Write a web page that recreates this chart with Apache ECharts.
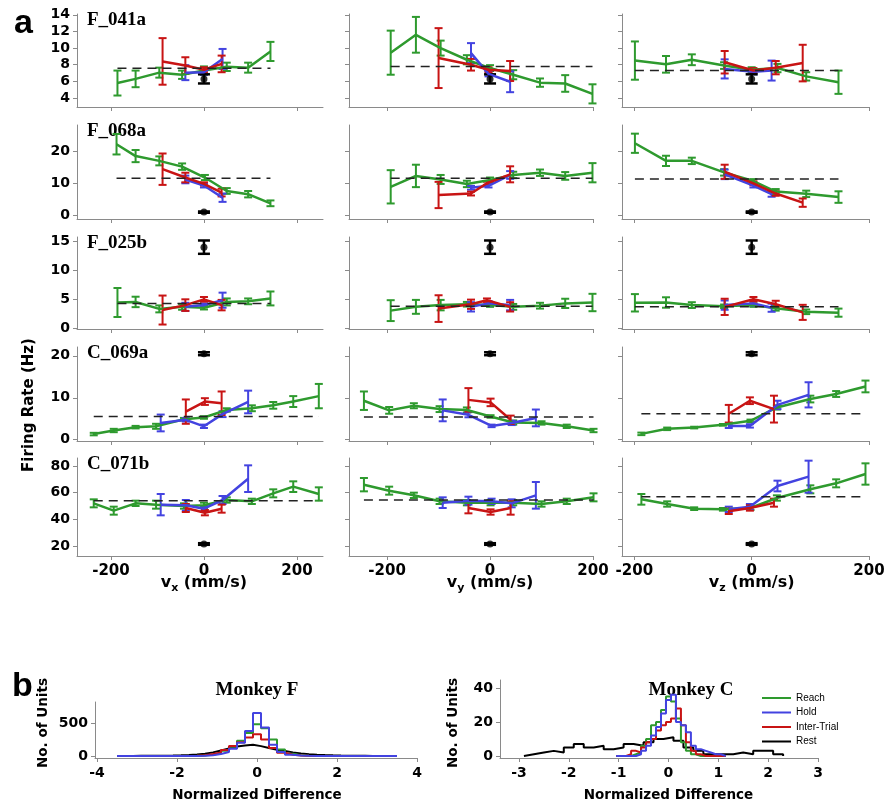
<!DOCTYPE html>
<html>
<head>
<meta charset="utf-8">
<script src="https://cdn.jsdelivr.net/npm/echarts@6/dist/echarts.min.js"></script>
<style>
  html, body { margin: 0; padding: 0; background: #fff; }
  #main { width: 896px; height: 804px; }
</style>
</head>
<body>
<div id="main"></div>
<script>
// ---------- (a) velocity tuning: rows are [velocity mm/s, mean rate Hz, s.e.m.] ----------
const unitNames = ['F_041a', 'F_068a', 'F_025b', 'C_069a', 'C_071b'];
const velAxes = ['x', 'y', 'z'];
const velTicks = [-200, 0, 200];

const F041a_vx_reach = [[-186,5.8,1.5],[-147,6.3,1.0],[-96,7.05,0.6],[-47,6.8,0.5],[0,7.3,0.5],[49,7.75,0.5],[95,7.65,0.6],[143,9.6,1.15]];
const F041a_vx_hold  = [[-40,7.05,0.9],[0,7.1,0.3],[40,8.7,1.2]];
const F041a_vx_inter = [[-89,8.4,2.8],[-40,7.9,1.0],[0,7.4,0.3],[38,8.1,1.0]];
const F041a_vy_reach = [[-193,9.45,2.65],[-144,11.6,2.15],[-96,10.0,0.9],[-45,8.6,0.55],[0,7.6,0.35],[45,6.8,0.55],[97,5.85,0.5],[146,5.75,1.0],[199,4.5,1.15]];
const F041a_vy_hold  = [[-37,9.4,1.2],[-3,6.9,0.3],[39,5.95,1.25]];
const F041a_vy_inter = [[-100,8.8,3.6],[-37,8.0,0.7],[-3,7.4,0.3],[39,7.25,1.2]];
const F041a_vz_reach = [[-199,8.5,2.3],[-146,8.05,1.0],[-102,8.6,0.65],[-47,7.9,0.4],[0,7.4,0.3],[44,7.6,0.5],[93,6.6,0.5],[148,5.9,1.4]];
const F041a_vz_hold  = [[-46,7.5,1.15],[3,7.15,0.3],[34,7.3,1.2]];
const F041a_vz_inter = [[-46,8.3,1.35],[3,7.3,0.3],[41,7.65,0.8],[87,8.2,2.2]];
const F041a_base = [7.58, 7.78, 7.3];
const F041a_rest = [6.3, 0.55];
const F041a_yTicks = [4, 6, 8, 10, 12, 14];

const F068a_vx_reach = [[-188,22.1,3.2],[-147,18.4,1.9],[-96,16.9,1.4],[-47,15.1,1.0],[2,11.7,0.8],[49,7.5,0.9],[95,6.5,1.0],[143,3.65,0.9]];
const F068a_vx_hold  = [[-40,11.1,1.2],[0,9.2,0.6],[40,5.4,1.3]];
const F068a_vx_inter = [[-89,14.3,4.9],[-40,11.7,1.5],[0,9.7,0.5],[38,7.0,1.2]];
const F068a_vy_reach = [[-193,8.8,5.2],[-144,12.2,3.5],[-96,11.1,1.4],[-45,9.7,1.0],[0,10.9,0.8],[45,12.5,1.0],[97,13.2,1.0],[146,12.2,1.2],[199,13.2,3.0]];
const F068a_vy_hold  = [[-37,8.5,0.6],[-3,9.1,0.5],[39,12.5,1.2]];
const F068a_vy_inter = [[-100,6.25,4.1],[-37,6.7,0.6],[-6,9.9,0.5],[39,12.7,2.5]];
const F068a_vz_reach = [[-199,22.4,3.0],[-146,16.9,1.6],[-102,16.9,1.0],[-47,13.3,1.0],[3,10.6,0.6],[41,7.3,0.8],[93,6.6,1.0],[148,5.6,1.8]];
const F068a_vz_hold  = [[-46,12.7,1.5],[3,9.2,0.6],[34,6.5,0.8]];
const F068a_vz_inter = [[-46,13.5,2.2],[3,9.9,0.6],[41,6.7,0.7],[87,3.85,1.3]];
const F068a_base = [11.45, 11.45, 11.25];
const F068a_rest = [0.9, 0.2];
const F068a_yTicks = [0, 10, 20];

const F025b_vx_reach = [[-186,4.4,2.5],[-147,4.5,0.9],[-96,3.3,0.6],[-47,3.65,0.5],[0,3.5,0.3],[49,4.5,0.6],[95,4.6,0.5],[143,5.1,1.2]];
const F025b_vx_hold  = [[-40,3.65,0.7],[0,3.95,0.3],[40,4.8,1.3]];
const F025b_vx_inter = [[-89,3.1,2.5],[-40,3.95,1.0],[0,4.95,0.4],[38,3.95,0.9]];
const F025b_vy_reach = [[-193,3.0,1.8],[-144,3.65,1.2],[-96,3.95,0.9],[-45,4.1,0.4],[0,3.95,0.3],[45,3.65,0.5],[97,3.85,0.5],[146,4.25,0.8],[199,4.4,1.5]];
const F025b_vy_hold  = [[-37,3.65,0.8],[-3,4.25,0.4],[39,3.95,0.9]];
const F025b_vy_inter = [[-100,3.35,2.3],[-37,4.1,0.8],[-6,4.8,0.3],[39,3.65,0.8]];
const F025b_vz_reach = [[-199,4.35,1.5],[-146,4.4,0.9],[-102,3.95,0.5],[-47,3.75,0.3],[3,3.95,0.3],[41,3.4,0.4],[93,2.8,0.4],[148,2.65,0.7]];
const F025b_vz_hold  = [[-46,3.95,0.8],[3,4.25,0.4],[34,3.5,0.7]];
const F025b_vz_inter = [[-46,3.65,1.4],[3,4.95,0.4],[41,4.1,0.6],[87,2.7,1.3]];
const F025b_base = [4.23, 3.77, 3.66];
const F025b_rest = [13.95, 1.15];
const F025b_yTicks = [0, 5, 10, 15];

const C069a_vx_reach = [[-237,1.35,0.3],[-194,2.2,0.4],[-147,3.0,0.3],[-103,3.2,0.6],[-43,4.9,0.3],[0,5.3,0.3],[49,7.1,0.4],[103,7.5,0.7],[149,8.2,0.8],[192,9.1,1.3],[247,10.4,2.9]];
const C069a_vx_hold  = [[-93,4.0,2.0],[-39,4.75,0.4],[0,3.2,0.4],[40,6.1,0.7],[95,9.0,2.7]];
const C069a_vx_inter = [[-39,6.7,2.9],[2,9.1,0.8],[38,8.7,2.8]];
const C069a_vy_reach = [[-245,9.3,2.2],[-196,7.0,0.8],[-148,8.1,0.6],[-98,7.3,0.7],[-45,7.1,0.6],[1,5.55,0.3],[45,4.1,0.5],[100,4.0,0.4],[149,3.2,0.4],[201,2.2,0.4]];
const C069a_vy_hold  = [[-92,7.0,2.6],[-42,5.95,0.6],[3,3.3,0.3],[42,4.0,0.5],[89,5.2,2.0]];
const C069a_vy_inter = [[-42,9.5,2.8],[1,8.9,0.9],[40,4.75,1.0]];
const C069a_vz_reach = [[-188,1.4,0.3],[-144,2.6,0.3],[-98,2.9,0.2],[-49,3.55,0.2],[-2,4.5,0.3],[43,7.7,0.5],[100,9.7,0.8],[144,10.9,0.7],[194,12.7,1.4]];
const C069a_vz_hold  = [[-39,3.3,0.5],[-3,3.3,0.4],[44,8.3,1.0],[97,10.7,3.0]];
const C069a_vz_inter = [[-39,6.2,2.1],[-3,9.3,0.8],[38,7.3,3.2]];
const C069a_base = [5.55, 5.4, 6.2];
const C069a_rest = [20.5, 0.35];
const C069a_yTicks = [0, 10, 20];

const C071b_vx_reach = [[-237,52,3],[-194,46.5,3],[-147,52,2],[-103,51,3],[-43,50,2],[0,50.5,2],[49,54.5,2],[103,53.5,2],[149,59.5,3],[192,64.5,4],[247,59,5]];
const C071b_vx_hold  = [[-93,51,8],[-39,50.5,4],[0,48,2],[40,54.5,3],[95,70.5,10]];
const C071b_vx_inter = [[-39,48.5,3],[2,45,2],[38,48,3]];
const C071b_vy_reach = [[-245,66,5],[-196,61.5,3],[-148,58,2],[-98,53.5,2],[-45,52.5,2],[1,52.5,2],[45,52.5,2],[100,51.5,2],[149,53.5,2],[201,56.5,3]];
const C071b_vy_hold  = [[-92,52.5,4],[-42,54,3],[3,53.5,2],[42,52,3],[89,58,10]];
const C071b_vy_inter = [[-42,48.5,4],[1,45.5,2],[40,48.5,5]];
const C071b_vz_reach = [[-188,55,4],[-144,51.5,2],[-98,48,1],[-49,47.5,1],[-2,48.5,1.5],[43,56,2],[100,62.5,3],[144,67,3],[194,74,8]];
const C071b_vz_hold  = [[-39,47.5,2],[-3,49.5,2],[44,65,4],[97,72,12]];
const C071b_vz_inter = [[-39,46,2],[-3,48.5,2],[38,52.5,3]];
const C071b_base = [54, 54.5, 57];
const C071b_rest = [21.5, 0.6];
const C071b_yTicks = [20, 40, 60, 80];

// ---------- (b) histograms of normalized difference (bin edges + counts) ----------
const condNames = ['Reach', 'Hold', 'Inter-Trial', 'Rest'];

const monkeyF_edges = [-3.5,-3.3,-3.1,-2.9,-2.7,-2.5,-2.3,-2.1,-1.9,-1.7,-1.5,-1.3,-1.1,-0.9,-0.7,-0.5,-0.3,-0.1,0.1,0.3,0.5,0.7,0.9,1.1,1.3,1.5,1.7,1.9,2.1,2.3,2.5,2.7,2.9,3.1,3.3,3.5];
const monkeyF_reach = [0,0,0,0,0,0,0,0,0,3,8,20,45,80,140,230,350,480,420,250,100,35,12,4,2,0,0,0,0,0,0,0,0,0,0];
const monkeyF_hold  = [0,0,0,0,0,0,0,0,0,0,5,12,30,60,110,200,380,650,430,170,60,20,8,3,0,0,0,0,0,0,0,0,0,0,0];
const monkeyF_inter = [0,0,0,0,0,0,0,0,0,5,12,30,55,90,150,210,280,330,250,120,50,20,8,3,0,0,0,0,0,0,0,0,0,0,0];
const monkeyF_rest  = [2,2,3,3,4,5,7,10,14,22,35,55,85,115,145,160,170,150,120,95,75,55,40,28,20,14,10,7,5,4,3,2,2,1,1];
const monkeyF_xTicks = [-4, -2, 0, 2, 4];
const monkeyF_yTicks = [0, 500];

const monkeyC_edges = [-1.05,-0.95,-0.85,-0.75,-0.65,-0.55,-0.45,-0.35,-0.25,-0.15,-0.05,0.05,0.15,0.25,0.35,0.45,0.55,0.65,0.75,0.85,0.95,1.05,1.15];
const monkeyC_reach = [0,0,0,1,2,6,10,18,20,27,35,32,22,8,3,1,0,0,0,0,0,0];
const monkeyC_hold  = [0,0,0,0,1,3,6,12,17,25,33,36,20,18,14,6,4,3,2,1,1,0];
const monkeyC_inter = [0,0,1,3,2,5,8,10,15,18,20,22,28,18,8,3,1,0,0,0,0,0];
const monkeyC_restEdges = [-2.9,-2.7,-2.5,-2.3,-2.1,-1.9,-1.7,-1.5,-1.3,-1.1,-0.9,-0.7,-0.5,-0.3,-0.1,0.1,0.3,0.5,0.7,0.9,1.1,1.3,1.5,1.7,1.9,2.1,2.3];
const monkeyC_rest  = [1,2,3,2,5,7,5,6,4,5,7,6,8,10,11,9,5,3,1,1,1,2,1,3,3,1];
const monkeyC_xTicks = [-3, -2, -1, 0, 1, 2, 3];
const monkeyC_yTicks = [0, 20, 40];

// ---------- assemble ----------
const units = [
  { panels: [[F041a_vx_reach, F041a_vx_hold, F041a_vx_inter], [F041a_vy_reach, F041a_vy_hold, F041a_vy_inter], [F041a_vz_reach, F041a_vz_hold, F041a_vz_inter]], base: F041a_base, rest: F041a_rest, yTicks: F041a_yTicks },
  { panels: [[F068a_vx_reach, F068a_vx_hold, F068a_vx_inter], [F068a_vy_reach, F068a_vy_hold, F068a_vy_inter], [F068a_vz_reach, F068a_vz_hold, F068a_vz_inter]], base: F068a_base, rest: F068a_rest, yTicks: F068a_yTicks },
  { panels: [[F025b_vx_reach, F025b_vx_hold, F025b_vx_inter], [F025b_vy_reach, F025b_vy_hold, F025b_vy_inter], [F025b_vz_reach, F025b_vz_hold, F025b_vz_inter]], base: F025b_base, rest: F025b_rest, yTicks: F025b_yTicks },
  { panels: [[C069a_vx_reach, C069a_vx_hold, C069a_vx_inter], [C069a_vy_reach, C069a_vy_hold, C069a_vy_inter], [C069a_vz_reach, C069a_vz_hold, C069a_vz_inter]], base: C069a_base, rest: C069a_rest, yTicks: C069a_yTicks },
  { panels: [[C071b_vx_reach, C071b_vx_hold, C071b_vx_inter], [C071b_vy_reach, C071b_vy_hold, C071b_vy_inter], [C071b_vz_reach, C071b_vz_hold, C071b_vz_inter]], base: C071b_base, rest: C071b_rest, yTicks: C071b_yTicks }
];

const GREEN = '#2e9a2e', BLUE = '#4343e0', RED = '#c81414', BLACK = '#000000', AXIS = '#8a8a8a';
const condColors = [GREEN, BLUE, RED, BLACK];
const SANS = "'Liberation Sans', Arial, sans-serif";
const WIDE = "'DejaVu Sans', 'Liberation Sans', sans-serif";
const SERIF = "'Liberation Serif', 'Times New Roman', serif";

// panel geometry
const colLayout = [
  { left: 77,  width: 246, min: -273, max: 256 },
  { left: 349, width: 244, min: -274, max: 200 },
  { left: 622, width: 247, min: -221, max: 200 }
];
const rowLayout = [
  { top: 14,  height: 93, min: 2.92, max: 14.1 },
  { top: 125, height: 94, min: -1.25, max: 28.1 },
  { top: 237, height: 92, min: -0.17, max: 15.7 },
  { top: 347, height: 94, min: -0.3, max: 22.1 },
  { top: 458, height: 98, min: 12.5, max: 86 }
];

const grids = [], xAxes = [], yAxes = [], series = [], graphics = [];

function errorBars(rows, color, idx, cap, width) {
  return {
    type: 'custom', xAxisIndex: idx, yAxisIndex: idx, silent: true, z: 3,
    data: rows.map(r => [r[0], r[1] - r[2], r[1] + r[2]]),
    encode: { x: 0, y: [1, 2] },
    renderItem(params, api) {
      const x = api.value(0);
      const lo = api.coord([x, api.value(1)]);
      const hi = api.coord([x, api.value(2)]);
      const st = { stroke: color, lineWidth: width, lineCap: 'butt' };
      return {
        type: 'group',
        children: [
          { type: 'line', shape: { x1: lo[0], y1: lo[1], x2: hi[0], y2: hi[1] }, style: st },
          { type: 'line', shape: { x1: lo[0] - cap, y1: lo[1], x2: lo[0] + cap, y2: lo[1] }, style: st },
          { type: 'line', shape: { x1: hi[0] - cap, y1: hi[1], x2: hi[0] + cap, y2: hi[1] }, style: st }
        ]
      };
    }
  };
}

function meanLine(rows, color, idx, name) {
  return {
    type: 'line', name, xAxisIndex: idx, yAxisIndex: idx, silent: true, z: 3,
    data: rows.map(r => [r[0], r[1]]),
    symbol: 'none', lineStyle: { color, width: 2.5 }, clip: false
  };
}

const tickLabel = (show, values, size) => ({
  show, customValues: values, color: '#000', fontFamily: WIDE, fontWeight: 'bold', fontSize: size, margin: 7
});

units.forEach((u, ri) => {
  const rl = rowLayout[ri];
  u.panels.forEach((trio, ci) => {
    const cl = colLayout[ci];
    const idx = grids.length;
    grids.push({ left: cl.left, top: rl.top, width: cl.width, height: rl.height });
    xAxes.push({
      type: 'value', gridIndex: idx, min: cl.min, max: cl.max,
      axisLine: { show: true, onZero: false, lineStyle: { color: AXIS, width: 1 } },
      axisTick: { show: true, customValues: velTicks, length: 4, lineStyle: { color: AXIS } },
      axisLabel: Object.assign(tickLabel(ri === 4, velTicks, 15), { margin: 8 }),
      splitLine: { show: false }
    });
    yAxes.push({
      type: 'value', gridIndex: idx, min: rl.min, max: rl.max,
      axisLine: { show: true, onZero: false, lineStyle: { color: AXIS, width: 1 } },
      axisTick: { show: true, customValues: u.yTicks, length: 4, lineStyle: { color: AXIS } },
      axisLabel: tickLabel(ci === 0, u.yTicks, 14),
      splitLine: { show: false }
    });
    const [reach, hold, inter] = trio;
    // reach condition (green) first, baseline dashed, then hold and inter-trial
    series.push(meanLine(reach, GREEN, idx, 'Reach'));
    series.push(errorBars(reach, GREEN, idx, 4, 2));
    series.push({
      type: 'line', xAxisIndex: idx, yAxisIndex: idx, silent: true, z: 4,
      data: [[reach[0][0], u.base[ci]], [reach[reach.length - 1][0], u.base[ci]]],
      symbol: 'none', lineStyle: { color: '#222', width: 1.5, type: [9, 6] }
    });
    series.push(meanLine(hold, BLUE, idx, 'Hold'));
    series.push(errorBars(hold, BLUE, idx, 4, 2));
    series.push(meanLine(inter, RED, idx, 'Inter-Trial'));
    series.push(errorBars(inter, RED, idx, 4, 2));
    // rest rate: filled dot with error bar at zero velocity
    series.push(errorBars([[0, u.rest[0], u.rest[1]]], BLACK, idx, 6, 2.5));
    series.push({
      type: 'scatter', xAxisIndex: idx, yAxisIndex: idx, silent: true, z: 5,
      data: [[0, u.rest[0]]], symbol: 'circle', symbolSize: 7, itemStyle: { color: BLACK }
    });
  });
  graphics.push({
    type: 'text', left: 87, top: rl.top - 3,
    style: { text: unitNames[ri], font: `bold 19px ${SERIF}`, fill: '#000' }
  });
});

// velocity axis names with subscript
colLayout.forEach((cl, ci) => {
  const cx = cl.left + (0 - cl.min) / (cl.max - cl.min) * cl.width;
  graphics.push({
    type: 'text', x: cx, y: 583,
    style: {
      text: `{v|v}{s|${velAxes[ci]}}{t| (mm/s)}`,
      align: 'center', verticalAlign: 'middle',
      rich: {
        v: { font: `bold 16px ${WIDE}`, lineHeight: 22, fill: '#000' },
        s: { font: `bold 11px ${WIDE}`, lineHeight: 12, verticalAlign: 'bottom', fill: '#000' },
        t: { font: `bold 16px ${WIDE}`, lineHeight: 22, fill: '#000' }
      }
    }
  });
});

graphics.push({
  type: 'text', x: 29, y: 405, rotation: Math.PI / 2,
  style: { text: 'Firing Rate (Hz)', font: `bold 15px ${WIDE}`, fill: '#000', align: 'center', verticalAlign: 'middle' }
});
graphics.push({ type: 'text', left: 14, top: 7, style: { text: 'a', font: `bold 34px ${SANS}`, fill: '#000' } });
graphics.push({ type: 'text', left: 12, top: 670, style: { text: 'b', font: `bold 34px ${SANS}`, fill: '#000' } });

// ---------- histograms ----------
function stairs(edges, counts) {
  const pts = [[edges[0], 0]];
  counts.forEach((c, i) => pts.push([edges[i], c]));
  pts.push([edges[edges.length - 1], 0]);
  return pts;
}

const hist = [
  { title: 'Monkey F', titleX: 257, left: 95, width: 322, top: 702, height: 56, xmin: -4.05, xmax: 4, ymin: -30, ymax: 818,
    xTicks: monkeyF_xTicks, yTicks: monkeyF_yTicks, yNameX: 43,
    sets: [[monkeyF_edges, monkeyF_rest], [monkeyF_edges, monkeyF_reach], [monkeyF_edges, monkeyF_inter], [monkeyF_edges, monkeyF_hold]],
    colors: [BLACK, GREEN, RED, BLUE], names: [condNames[3], condNames[0], condNames[2], condNames[1]] },
  { title: 'Monkey C', titleX: 691, left: 500, width: 318, top: 680, height: 78, xmin: -3.38, xmax: 3, ymin: -1.2, ymax: 44.7,
    xTicks: monkeyC_xTicks, yTicks: monkeyC_yTicks, yNameX: 453,
    sets: [[monkeyC_restEdges, monkeyC_rest], [monkeyC_edges, monkeyC_reach], [monkeyC_edges, monkeyC_inter], [monkeyC_edges, monkeyC_hold]],
    colors: [BLACK, GREEN, RED, BLUE], names: [condNames[3], condNames[0], condNames[2], condNames[1]] }
];

hist.forEach(h => {
  const idx = grids.length;
  grids.push({ left: h.left, top: h.top, width: h.width, height: h.height });
  xAxes.push({
    type: 'value', gridIndex: idx, min: h.xmin, max: h.xmax,
    axisLine: { show: true, onZero: false, lineStyle: { color: AXIS } },
    axisTick: { show: true, customValues: h.xTicks, length: 4, lineStyle: { color: AXIS } },
    axisLabel: Object.assign(tickLabel(true, h.xTicks, 14), { margin: 8 }),
    splitLine: { show: false }
  });
  yAxes.push({
    type: 'value', gridIndex: idx, min: h.ymin, max: h.ymax,
    axisLine: { show: true, onZero: false, lineStyle: { color: AXIS } },
    axisTick: { show: true, customValues: h.yTicks, length: 4, lineStyle: { color: AXIS } },
    axisLabel: tickLabel(true, h.yTicks, 14),
    splitLine: { show: false }
  });
  h.sets.forEach(([edges, counts], k) => {
    series.push({
      type: 'line', name: h.names[k], xAxisIndex: idx, yAxisIndex: idx, silent: true,
      data: stairs(edges, counts), step: 'end', symbol: 'none',
      lineStyle: { color: h.colors[k], width: 2 }, z: 3 + k
    });
  });
  graphics.push({
    type: 'text', x: h.titleX, y: 690,
    style: { text: h.title, font: `bold 19px ${SERIF}`, fill: '#000', align: 'center', verticalAlign: 'middle' }
  });
  graphics.push({
    type: 'text', x: h.left + h.width * (0 - h.xmin) / (h.xmax - h.xmin), y: 795,
    style: { text: 'Normalized Difference', font: `bold 13.5px ${WIDE}`, fill: '#000', align: 'center', verticalAlign: 'middle' }
  });
  graphics.push({
    type: 'text', x: h.yNameX, y: 723, rotation: Math.PI / 2,
    style: { text: 'No. of Units', font: `bold 13.5px ${WIDE}`, fill: '#000', align: 'center', verticalAlign: 'middle' }
  });
});

// legend for the condition colours
condNames.forEach((n, i) => {
  const y = 698 + i * 14.5;
  graphics.push({ type: 'line', shape: { x1: 762, y1: y, x2: 791, y2: y }, style: { stroke: condColors[i], lineWidth: 2 } });
  graphics.push({ type: 'text', x: 796, y: y, style: { text: n, font: `10px ${SANS}`, fill: '#000', verticalAlign: 'middle' } });
});

const chart = echarts.init(document.getElementById('main'), null, { renderer: 'canvas' });
chart.setOption({
  animation: false,
  backgroundColor: '#fff',
  grid: grids,
  xAxis: xAxes,
  yAxis: yAxes,
  series,
  graphic: graphics
});
</script>
</body>
</html>
